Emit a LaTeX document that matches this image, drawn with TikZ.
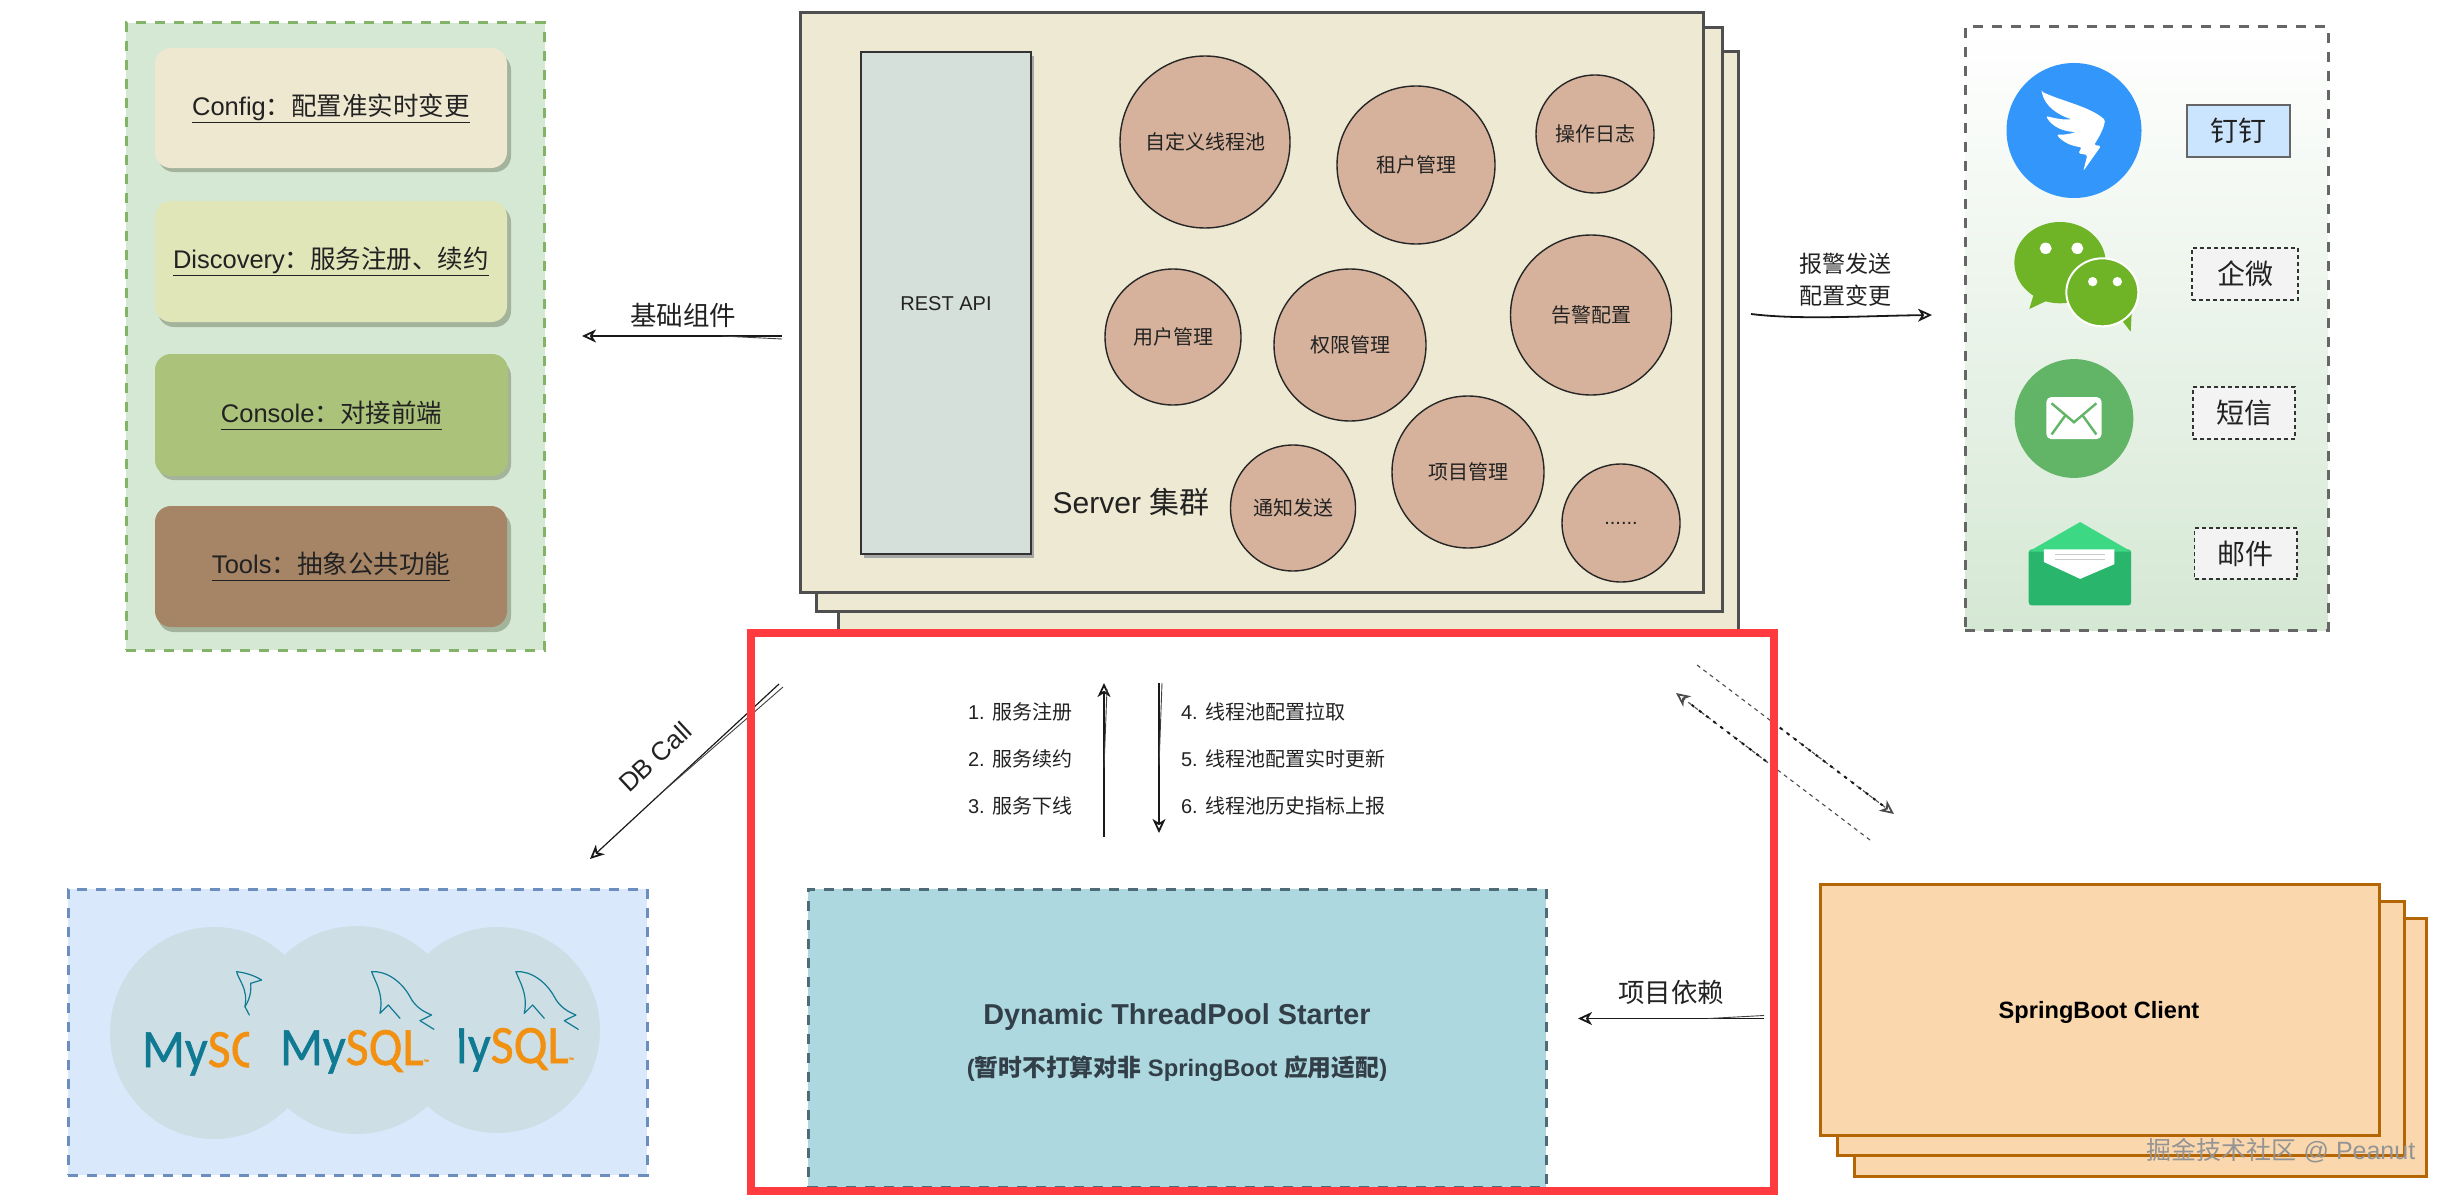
\documentclass[tikz,border=0pt]{standalone}
\usepackage{fontspec}
\setmainfont{Liberation Sans}
\newfontfamily\cj{Noto Sans CJK SC}
\newfontfamily\sqlfont[FakeStretch=.93,FakeBold=1]{Carlito}
\newcommand\zh[1]{{\cj #1}}
\usetikzlibrary{shapes.geometric,arrows.meta,calc}
\definecolor{gpfill}{HTML}{D5E8D4}
\definecolor{gpline}{HTML}{82B366}
\definecolor{bxa}{HTML}{EEE8D0}
\definecolor{bxb}{HTML}{E0E6B8}
\definecolor{bxc}{HTML}{ABC27A}
\definecolor{bxd}{HTML}{A68466}
\definecolor{bxshadow}{HTML}{A3B39C}
\definecolor{srvfill}{HTML}{EEE9D2}
\definecolor{srvline}{HTML}{4F4F4F}
\definecolor{restfill}{HTML}{D5E0DA}
\definecolor{ellfill}{HTML}{D6B29C}
\definecolor{redbox}{HTML}{FF3B3F}
\definecolor{stfill}{HTML}{AED8DF}
\definecolor{stline}{HTML}{4E6B78}
\definecolor{sttext}{HTML}{333F48}
\definecolor{sbfill}{HTML}{FAD7AC}
\definecolor{sbline}{HTML}{B46504}
\definecolor{dbfill}{HTML}{DAE8FC}
\definecolor{dbline}{HTML}{6C8EBF}
\definecolor{dbell}{HTML}{CDDEE5}
\definecolor{myteal}{HTML}{0F7A92}
\definecolor{myorange}{HTML}{F29111}
\definecolor{ding}{HTML}{3296FA}
\definecolor{wechat}{HTML}{6FB426}
\definecolor{smsgreen}{HTML}{62B566}
\definecolor{maildark}{HTML}{2AB56C}
\definecolor{maillight}{HTML}{3DD884}
\definecolor{lblblue}{HTML}{CCE5FF}
\definecolor{lblgray}{HTML}{F3F3F3}
\definecolor{txt}{HTML}{222222}
\tikzset{
  rectn/.style={rectangle,inner sep=0pt,outer sep=0pt,align=center,text=txt},
  ellin/.style={ellipse,inner sep=0pt,outer sep=0pt,align=center,text=txt},
  panelg/.style={draw=gpline,fill=gpfill,line width=3pt,dash pattern=on 10pt off 9pt},
  panelr/.style={draw=black!60,top color=white,bottom color=gpfill,line width=3pt,dash pattern=on 10pt off 9pt},
  paneldb/.style={draw=dbline,fill=dbfill,line width=3pt,dash pattern=on 10pt off 9pt},
  starter/.style={draw=stline,fill=stfill,line width=3pt,dash pattern=on 10pt off 9pt},
  comp/.style={fill=#1,rounded corners=16pt,font=\fontsize{25.5}{30}\selectfont},
  srv/.style={draw=srvline,fill=srvfill,line width=3pt},
  sb/.style={draw=sbline,fill=sbfill,line width=3pt},
  rest/.style={draw=black!80,fill=restfill,line width=1.5pt,font=\fontsize{20}{24}\selectfont},
  svc/.style={draw=black!85,fill=ellfill,line width=1.4pt,font=\fontsize{20}{24}\selectfont},
  lblsolid/.style={draw=black!60,fill=lblblue,line width=1.5pt,font=\fontsize{28}{32}\selectfont},
  lbldash/.style={draw=black!80,fill=lblgray,line width=1.2pt,dash pattern=on 4pt off 3pt,font=\fontsize{28}{32}\selectfont},
  lab/.style={inner sep=0pt,outer sep=0pt,text=txt},
  lab26/.style={lab,font=\fontsize{26.5}{30}\selectfont},
  lab23/.style={lab,align=center,font=\fontsize{23}{32}\selectfont},
  lab20/.style={lab,font=\fontsize{20}{24}\selectfont},
  sketchtip/.style={-{Stealth[open,length=14pt,width=13pt,inset=4pt,line width=1.8pt]}},
  sketch/.style={draw=black!90,line width=1.8pt,sketchtip},
  hair/.style={draw=black!75,line width=.9pt},
  sqlt/.style={lab,anchor=base west,font=\sqlfont\fontsize{54}{58}\selectfont},
  dolph/.style={draw=myteal,line width=1.2pt,line cap=round,line join=round},
  dashA/.style={draw=black!70,line width=1.1pt,dash pattern=on 4pt off 4pt},
  dashB/.style={draw=black!90,line width=2pt,dash pattern=on 3pt off 6pt},
}
\newcommand\mybox[7][]{\node[rectn,#1,minimum width={(#5-#3)*1pt},minimum height={(#6-#4)*1pt}] (#2) at ({(#3+#5)/2},{(#4+#6)/2}) {#7};}
\newcommand\myell[7][svc]{\node[ellin,#1,minimum width={(#5)*2pt},minimum height={(#6)*2pt}] (#2) at (#3,#4) {#7};}
\newcommand\ulin[1]{\underline{\vphantom{g}#1}}
\newcommand\sqltext{{\color{myteal}My}{\color{myorange}SQL}{\fontsize{8}{9}\selectfont\color{myorange}™}}
\newcommand\dolphinpath{
  \draw[dolph] (725,65) .. controls (770,62) and (815,95) .. (840,140) .. controls (855,170) and (880,185) .. (905,195) -- (870,212) -- (912,238);
  \draw[dolph] (725,65) .. controls (735,95) and (762,130) .. (750,190) -- (775,165) -- (810,205);
}
\begin{document}
\begin{tikzpicture}[x=1pt,y=-1pt]
\useasboundingbox (0,0) rectangle (2447,1196);

% ---------- left panel
\mybox[panelg]{gpanel}{126}{23}{544.5}{650}{}
\fill[bxshadow,rounded corners=16pt] (158,54) rectangle (511,172);
\fill[bxshadow,rounded corners=16pt] (158,206) rectangle (511,327);
\fill[bxshadow,rounded corners=16pt] (158,360) rectangle (511,480);
\fill[bxshadow,rounded corners=16pt] (158,512) rectangle (511,632);
\mybox[comp=bxa]{cfg}{155}{48}{507}{168}{\ulin{Config\zh{：配置准实时变更}}}
\mybox[comp=bxb]{disc}{155}{201}{507}{322}{\ulin{Discovery\zh{：服务注册、续约}}}
\mybox[comp=bxc]{cons}{155}{354}{508}{476}{\ulin{Console\zh{：对接前端}}}
\mybox[comp=bxd]{tools}{155}{506}{507}{627}{\ulin{Tools\zh{：抽象公共功能}}}

% ---------- server stack
\mybox[srv]{srvc}{838}{52}{1738}{630}{}
\mybox[srv]{srvb}{816}{28}{1722}{611}{}
\mybox[srv]{srva}{800}{13}{1703}{592}{}
\fill[black!35] (864,56) rectangle (1034,558);
\mybox[rest]{api}{861}{52}{1031}{554}{}
\node[lab20] (apit) at (946,304) {REST API};
\myell{e1}{1205}{142}{85}{86}{\zh{自定义线程池}}
\myell{e2}{1416}{165}{79}{79}{\zh{租户管理}}
\myell{e3}{1595}{134}{59}{59}{\zh{操作日志}}
\myell{e4}{1173}{337}{68}{68}{\zh{用户管理}}
\myell{e5}{1350}{345}{76}{76}{\zh{权限管理}}
\myell{e6}{1591}{315}{80.5}{80}{\zh{告警配置}}
\myell{e7}{1468}{472}{76}{76}{\zh{项目管理}}
\myell{e8}{1293}{508}{62.5}{63}{\zh{通知发送}}
\myell{e9}{1621}{523}{59}{59}{......}
\node[lab,font=\fontsize{30}{34}\selectfont] (srvt) at (1131,502) {Server \zh{集群}};

% ---------- right panel
\mybox[panelr]{rpanel}{1965}{27}{2328}{630}{}
\myell[fill=ding]{dingc}{2074}{130.5}{67.5}{67.5}{}
\begin{scope}[x=.3333pt,y=-.3333pt,shift={(2000pt,-60pt)}]
  \fill[white,rounded corners=1.5pt] (125,95) .. controls (190,125) and (270,140) .. (315,180) .. controls (312,205) and (295,235) .. (282,255) -- (303,258) -- (250,333) -- (262,285) -- (235,280) -- (245,262) .. controls (215,258) and (190,248) .. (170,224) .. controls (190,225) and (210,222) .. (228,216) .. controls (190,215) and (155,200) .. (138,168) .. controls (165,175) and (190,180) .. (215,178) .. controls (175,165) and (135,140) .. cycle;
\end{scope}
\begin{scope}[x=.3333pt,y=-.3333pt,shift={(2010pt,-215pt)}]
  \fill[wechat] (72,235) -- (58,282) -- (115,255) -- cycle;
  \fill[wechat] (150,143) ellipse [x radius=137,y radius=122];
  \fill[wechat] (335,315) -- (362,350) -- (365,295) -- cycle;
  \draw[white,line width=2pt,fill=wechat] (277,232) ellipse [x radius=108,y radius=102];
  \fill[white] (107,100) ellipse [x radius=18,y radius=17];
  \fill[white] (202,100) ellipse [x radius=18,y radius=17];
  \fill[white] (248,200) ellipse [x radius=14,y radius=14];
  \fill[white] (322,200) ellipse [x radius=14,y radius=14];
\end{scope}
\myell[fill=smsgreen]{smsc}{2074}{418.5}{59.3}{59.4}{}
\begin{scope}[x=.4764pt,y=-.421pt,shift={(1700pt,0pt)}]
  \fill[white,rounded corners=5pt] (727,943) rectangle (843,1043);
  \draw[smsgreen,line width=2.4pt] (738,958) -- (785,1003) -- (832,958);
  \draw[smsgreen,line width=2.4pt] (738,1032) -- (768,985);
  \draw[smsgreen,line width=2.4pt] (832,1032) -- (802,985);
  % mail
  \fill[maildark,rounded corners=3pt] (690,1305) -- (905,1305) -- (905,1438) -- (690,1438) -- cycle;
  \fill[maillight] (690,1310) -- (798,1240) -- (905,1310) -- cycle;
  \fill[white] (722,1305) -- (870,1305) -- (870,1340) -- (798,1375) -- (722,1335) -- cycle;
  \draw[black!20,line width=1pt] (745,1318) -- (850,1318) (745,1330) -- (850,1330);
\end{scope}
\mybox[lblsolid]{l1}{2187}{105}{2290}{157}{\zh{钉钉}}
\mybox[lbldash]{l2}{2192}{248}{2298}{300}{\zh{企微}}
\mybox[lbldash]{l3}{2193}{387}{2295}{439}{\zh{短信}}
\mybox[lbldash]{l4}{2194.5}{528}{2297}{579}{\zh{邮件}}

% ---------- database panel
\mybox[paneldb]{dbp}{68}{889}{647}{1175}{}
\myell[fill=dbell]{db1}{214}{1033}{104}{106}{}
\myell[fill=dbell]{db2}{356.5}{1030}{104}{104}{}
\myell[fill=dbell]{db3}{497}{1030}{103}{103}{}
\begin{scope}
  \clip (130,950) rectangle (249,1100);
  \node[sqlt] (sql1) at (142,1067) {\sqltext};
\end{scope}
\node[sqlt] (sql2) at (280,1065) {\sqltext};
\begin{scope}
  \clip (459,950) rectangle (600,1100);
  \node[sqlt] (sql3) at (425,1063) {\sqltext};
\end{scope}
\begin{scope}[x=.3333pt,y=-.3333pt,shift={(130pt,-950pt)}]
  \dolphinpath
  \begin{scope}[shift={(433,0)}]\dolphinpath\end{scope}
  \draw[dolph] (320,65) .. controls (345,68) and (370,75) .. (395,90) -- (362,100);
  \draw[dolph] (320,65) .. controls (325,90) and (355,115) .. (345,170) -- (358,195);
  \draw[dolph] (362,100) .. controls (365,125) and (358,150) .. (345,170);
\end{scope}

% ---------- starter
\mybox[starter]{start}{808}{889}{1546}{1187}{}
\node[lab,text=sttext,font=\bfseries\fontsize{28.8}{32}\selectfont] (stt1) at (1177,1017) {Dynamic ThreadPool Starter};
\node[lab,text=sttext,font=\bfseries\fontsize{23.8}{28}\selectfont] (stt2) at (1177,1069) {(\zh{暂时不打算对非} SpringBoot \zh{应用适配})};

% ---------- spring boot stack
\mybox[sb]{sbc}{1854}{918}{2426.5}{1176}{}
\mybox[sb]{sbb}{1837}{901}{2404}{1155}{}
\mybox[sb]{sba}{1820}{884}{2379}{1135}{}
\node[lab,text=black,font=\bfseries\fontsize{23.6}{28}\selectfont] (sbt) at (2099,1012) {SpringBoot Client};

% ---------- connectors
\coordinate (a1t) at (782,336); \coordinate (a1h) at (582,336);
\draw[sketch] (a1t) -- (a1h);
\draw[hair] ($(a1t)+(0,3)$) -- ($(a1t)!.3!(a1h)$);
\node[lab26] (a1l) at (683,315) {\zh{基础组件}};

\coordinate (a2t) at (1751,314); \coordinate (a2h) at (1932,315);
\draw[sketch] (a2t) .. controls (1800,320) and (1860,316) .. (a2h);
\node[lab23] (a2l) at (1845,280) {\zh{报警发送}\\\zh{配置变更}};

\coordinate (a3t) at (779,684); \coordinate (a3h) at (590,859);
\draw[sketch,line width=1.2pt] (a3t) -- (a3h);
\draw[hair] ($(a3t)+(4,3)$) -- ($(a3t)!.62!(a3h)$);
\node[lab,rotate=43,font=\fontsize{26}{30}\selectfont] (a3l) at (655,757) {DB Call};

\coordinate (a4t) at (1104,837); \coordinate (a4h) at (1104,683);
\draw[sketch,line width=1.6pt] (a4t) -- (a4h);
\draw[hair] ($(a4h)+(3,6)$) -- ($(a4h)!.55!(a4t)$);
\coordinate (a5t) at (1159,683); \coordinate (a5h) at (1159,833);
\draw[sketch,line width=1.6pt] (a5t) -- (a5h);
\draw[hair] ($(a5t)+(3,0)$) -- ($(a5t)!.55!(a5h)$);
\node[lab20,anchor=west] (s1) at (968,712) {1. \zh{服务注册}};
\node[lab20,anchor=west] (s2) at (968,759) {2. \zh{服务续约}};
\node[lab20,anchor=west] (s3) at (968,806) {3. \zh{服务下线}};
\node[lab20,anchor=west] (s4) at (1181,712) {4. \zh{线程池配置拉取}};
\node[lab20,anchor=west] (s5) at (1181,759) {5. \zh{线程池配置实时更新}};
\node[lab20,anchor=west] (s6) at (1181,806) {6. \zh{线程池历史指标上报}};

\coordinate (a6t) at (1764,1018.5); \coordinate (a6h) at (1578,1018.5);
\draw[sketch] (a6t) -- (a6h);
\draw[hair] ($(a6t)+(0,-3)$) -- ($(a6t)!.3!(a6h)$);
\node[lab26] (a6l) at (1671,992) {\zh{项目依赖}};

\coordinate (b1t) at (1697,665); \coordinate (b1h) at (1894,814);
\coordinate (b2t) at (1870,840); \coordinate (b2h) at (1676,693);
\draw[dashA,sketchtip] (b1t) -- (b1h);
\draw[dashA,sketchtip] (b2t) -- (b2h);
\draw[dashB] ($(b1t)!.42!(b1h)$) -- ($(b1t)!.96!(b1h)$);
\draw[dashB] ($(b2t)!.5!(b2h)$) -- ($(b2t)!.94!(b2h)$);

% ---------- highlight frame
\mybox[draw=redbox,line width=8pt]{frame}{751}{633}{1774}{1191}{}

% ---------- watermark
\node[lab,text=black!42,font=\fontsize{25}{29}\selectfont] (wm) at (2281,1151) {\zh{掘金技术社区} @ Peanut};
\end{tikzpicture}
\end{document}
